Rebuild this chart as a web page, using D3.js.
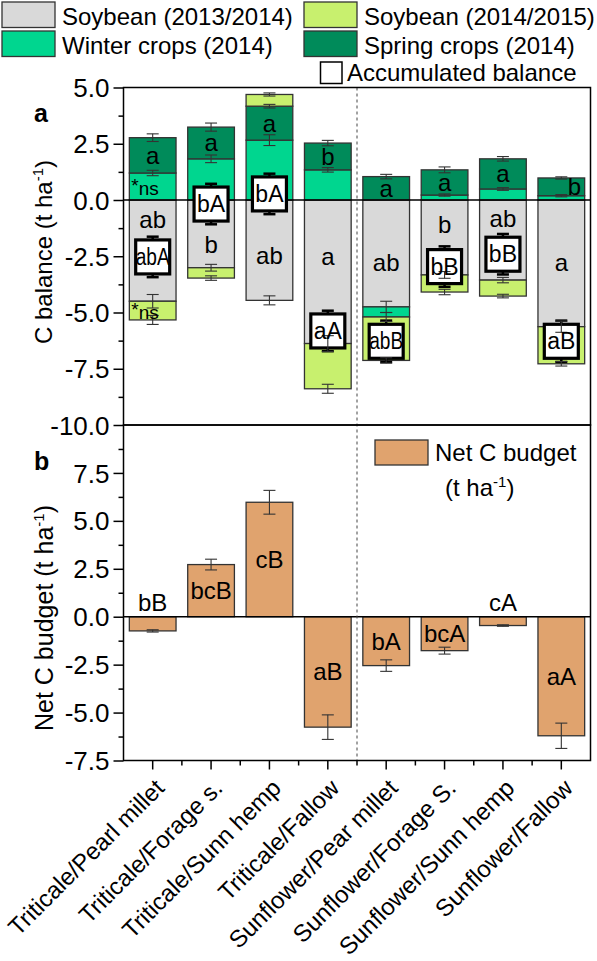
<!DOCTYPE html>
<html><head><meta charset="utf-8">
<script src="https://cdn.jsdelivr.net/npm/d3@7"></script>
<style>
body{margin:0;background:#fff}
svg{display:block}
text{font-family:"Liberation Sans",Arial,sans-serif;fill:#000}
</style>
</head><body>
<svg id="c" width="597" height="961"></svg>
<script>
// ---------------- data ----------------
const categories = ["Triticale/Pearl millet","Triticale/Forage s.","Triticale/Sunn hemp","Triticale/Fallow",
                    "Sunflower/Pear millet","Sunflower/Forage S.","Sunflower/Sunn hemp","Sunflower/Fallow"];
const soy1314    = [-4.50, -3.01, -4.46, -6.38, -4.75, -3.33, -3.56, -5.63];
const winter     = [ 1.20,  1.83,  2.66,  1.34, -0.45,  0.22,  0.49,  0.19];
const spring     = [ 1.57,  1.41,  1.51,  1.19,  1.04,  1.12,  1.34,  0.79];
const soy1415    = [-0.83, -0.46,  0.52, -2.01, -1.93, -0.76, -0.71, -1.65];
const soy1314Err = [0.30, 0.15, 0.20, 0.35, 0.25, 0.15, 0.12, 0.25];
const winterErr  = [0.12, 0.17, 0.24, 0.10, 0.20, 0.05, 0.06, 0.05];
const springErr  = [0.17, 0.18, 0.08, 0.12, 0.10, 0.13, 0.10, 0.05];
const soy1415Err = [0.20, 0.10, 0.07, 0.20, 0.12, 0.12, 0.08, 0.10];
const accum      = [-2.53, -0.18, 0.27, -5.82, -6.28, -2.96, -2.41, -6.28];
const accumErr   = [0.90, 0.90, 0.90, 0.90, 0.92, 0.90, 0.90, 0.92];
const netBudget  = [-0.74, 2.72, 5.97, -5.76, -2.55, -1.77, -0.46, -6.21];
const netErr     = [0.06, 0.28, 0.62, 0.64, 0.30, 0.18, 0.04, 0.66];
const springLetters = ["a","a","a","b","a","a","a","b"];
const soyLetters    = ["ab","b","ab","a","ab","b","ab","a"];
const accumLetters  = ["abA","bA","bA","aA","abB","bB","bB","aB"];
const netLetters    = ["bB","bcB","cB","aB","bA","bcA","cA","aA"];
const ticksA = [-10, -7.5, -5, -2.5, 0, 2.5, 5];
const ticksB = [-7.5, -5, -2.5, 0, 2.5, 5, 7.5];

// ---------------- layout ----------------
const svg = d3.select("#c");
const L = 123.5, R = 590.5, topA = 87.5, midY = 425, botB = 760.5;
const col = {soy1314:"#d9d9d9", winter:"#00d68f", spring:"#008b5a", soy1415:"#c8f06e", net:"#e0a36e"};
const edge = "#333";

const x = d3.scaleBand().domain(categories).range([L, R]).paddingInner(0.2).paddingOuter(0.1);
const step = x.step();
const cx = c => x(c) + x.bandwidth() / 2;
const yA = d3.scaleLinear().domain([-10, 5]).range([midY, topA]);
const yB = d3.scaleLinear().domain([-7.5, 10]).range([botB, midY]);

const gBars = svg.append("g");
const gLines = svg.append("g");
const gBox = svg.append("g");
const gErr = svg.append("g").attr("stroke", "#333").attr("stroke-width", 1.1);
const gTxt = svg.append("g").attr("text-anchor", "middle").style("font-size", "24px");

// ---------------- panel a: stacked bars ----------------
const keys = ["soy1314", "winter", "spring", "soy1415"];
const series = {soy1314, winter, spring, soy1415};
const errs = {soy1314: soy1314Err, winter: winterErr, spring: springErr, soy1415: soy1415Err};
const table = categories.map((c, i) => ({cat: c, soy1314: soy1314[i], winter: winter[i], spring: spring[i], soy1415: soy1415[i]}));
const stacked = d3.stack().keys(keys).offset(d3.stackOffsetDiverging)(table);

stacked.forEach(s => {
  gBars.selectAll(null).data(s).join("rect")
    .attr("x", d => x(d.data.cat)).attr("width", x.bandwidth())
    .attr("y", d => yA(Math.max(d[0], d[1])))
    .attr("height", d => Math.abs(yA(d[0]) - yA(d[1])))
    .attr("fill", col[s.key]).attr("stroke", edge).attr("stroke-width", 1.3);
});

gLines.append("line").attr("x1", L).attr("x2", R).attr("y1", yA(0)).attr("y2", yA(0))
  .attr("stroke", "#000").attr("stroke-width", 1.5);

// accumulated boxes
const box = 34;
categories.forEach((c, i) => {
  const yc = yA(accum[i]);
  gBox.append("rect").attr("x", cx(c) - box / 2).attr("y", yc - box / 2)
    .attr("width", box).attr("height", box).attr("fill", "#fff")
    .attr("stroke", "#000").attr("stroke-width", 3.2);
  const y1 = yA(accum[i] + accumErr[i]), y2 = yA(accum[i] - accumErr[i]);
  [[y1, yc - box / 2], [y2, yc + box / 2]].forEach(([a, b]) => {
    gBox.append("line").attr("x1", cx(c)).attr("x2", cx(c)).attr("y1", a).attr("y2", b)
      .attr("stroke", "#000").attr("stroke-width", 2.5);
    gBox.append("line").attr("x1", cx(c) - 6).attr("x2", cx(c) + 6).attr("y1", a).attr("y2", a)
      .attr("stroke", "#000").attr("stroke-width", 2.5);
  });
});

function errBar(g, xc, yTop, yBot, w) {
  g.append("line").attr("x1", xc).attr("x2", xc).attr("y1", yTop).attr("y2", yBot);
  g.append("line").attr("x1", xc - w).attr("x2", xc + w).attr("y1", yTop).attr("y2", yTop);
  g.append("line").attr("x1", xc - w).attr("x2", xc + w).attr("y1", yBot).attr("y2", yBot);
}
stacked.forEach(s => {
  s.forEach((d, i) => {
    const v = series[s.key][i];
    const end = v >= 0 ? d[1] : d[0];
    const e = errs[s.key][i];
    errBar(gErr, cx(d.data.cat), yA(end + e), yA(end - e), 6);
  });
});

// letters panel a
stacked.find(s => s.key === "spring").forEach((d, i) => {
  const h = d[1] - d[0];
  const dx = h < 0.9 ? 13 : 0;
  gTxt.append("text").attr("x", cx(d.data.cat) + dx).attr("y", yA((d[0] + d[1]) / 2) + 8.5).text(springLetters[i]);
});
categories.forEach((c, i) => {
  const boxTop = accum[i] + 0.76, boxBot = accum[i] - 0.76;
  let yv;
  if (boxBot < 0 && boxTop > -0.3) yv = (Math.min(boxBot, 0) + soy1314[i]) / 2;
  else yv = Math.min(boxTop, 0) / 2;
  gTxt.append("text").attr("x", cx(c)).attr("y", yA(yv) + 8.5).text(soyLetters[i]);
  const t = gTxt.append("text").attr("x", cx(c)).attr("y", yA(accum[i]) + 8).style("font-size", "23px").text(accumLetters[i]);
  if (accumLetters[i].length > 2) t.attr("textLength", 34).attr("lengthAdjust", "spacingAndGlyphs");
});
const nsRows = [stacked.find(s => s.key === "winter")[0], stacked.find(s => s.key === "soy1415")[0]];
nsRows.forEach(d => {
  const t = gTxt.append("text").attr("text-anchor", "start").attr("x", x(categories[0]) + 2)
    .attr("y", yA((d[0] + d[1]) / 2) + 8).style("font-size", "19px");
  t.append("tspan").text("*").attr("dy", -3);
  t.append("tspan").text("ns").attr("dy", 3);
});

// ---------------- panel b ----------------
gBars.selectAll(null).data(categories).join("rect")
  .attr("x", c => x(c)).attr("width", x.bandwidth())
  .attr("y", (c, i) => yB(Math.max(0, netBudget[i])))
  .attr("height", (c, i) => Math.abs(yB(netBudget[i]) - yB(0)))
  .attr("fill", col.net).attr("stroke", edge).attr("stroke-width", 1.3);
gLines.append("line").attr("x1", L).attr("x2", R).attr("y1", yB(0)).attr("y2", yB(0))
  .attr("stroke", "#000").attr("stroke-width", 1.5);
categories.forEach((c, i) => errBar(gErr, cx(c), yB(netBudget[i] + netErr[i]), yB(netBudget[i] - netErr[i]), 6));
categories.forEach((c, i) => {
  const v = netBudget[i];
  const yy = Math.abs(v) < 1 ? yB(0) - 6 : yB(v / 2) + 8.5;
  gTxt.append("text").attr("x", cx(c)).attr("y", yy).text(netLetters[i]);
});

// dashed divider
gLines.append("line").attr("x1", L + 4 * step).attr("x2", L + 4 * step).attr("y1", topA).attr("y2", botB)
  .attr("stroke", "#444").attr("stroke-width", 1).attr("stroke-dasharray", "3,3");

// frames
[[topA, midY], [midY, botB]].forEach(([t, b]) => {
  svg.append("rect").attr("x", L).attr("y", t).attr("width", R - L).attr("height", b - t)
    .attr("fill", "none").attr("stroke", "#000").attr("stroke-width", 1.5);
});

// ---------------- axes ----------------
const fmt = d => d.toFixed(1);
function yAxis(scale, vals, minorVals) {
  const g = svg.append("g").attr("transform", `translate(${L},0)`);
  g.call(d3.axisLeft(scale).tickValues(minorVals).tickSize(5).tickFormat(""));
  const g2 = svg.append("g").attr("transform", `translate(${L},0)`);
  g2.call(d3.axisLeft(scale).tickValues(vals).tickSize(10).tickPadding(4).tickFormat(fmt));
  [g, g2].forEach(gg => { gg.select(".domain").remove(); gg.selectAll("line").attr("stroke", "#000").attr("stroke-width", 1.5); });
  g2.selectAll("text").style("font-size", "26px").style("font-family", '"Liberation Sans",Arial,sans-serif').attr("dy", "0.35em");
}
yAxis(yA, ticksA, d3.range(-8.75, 5, 2.5));
yAxis(yB, ticksB, d3.range(-6.25, 10, 2.5));

// x axis
const gX = svg.append("g").attr("transform", `translate(0,${botB})`);
gX.call(d3.axisBottom(x).tickSize(9).tickFormat(""));
gX.select(".domain").remove();
gX.selectAll("line").attr("stroke", "#000").attr("stroke-width", 1.5);
d3.range(1, 8).forEach(i => {
  svg.append("line").attr("x1", L + i * step).attr("x2", L + i * step).attr("y1", botB).attr("y2", botB + 5)
    .attr("stroke", "#000").attr("stroke-width", 1.5);
});
svg.append("g").selectAll(null).data(categories).join("text")
  .attr("transform", c => `translate(${cx(c) + 13},${botB + 29}) rotate(-45)`)
  .attr("text-anchor", "end").style("font-size", "24px").text(c => c);

// axis titles
function yTitle(label, xPos, yPos, fs) {
  const t = svg.append("text").attr("transform", `translate(${xPos},${yPos}) rotate(-90)`)
    .attr("text-anchor", "middle").style("font-size", fs + "px");
  t.append("tspan").text(label + " (t ha");
  t.append("tspan").text("-1").style("font-size", "15px").attr("dy", -9);
  t.append("tspan").text(")").attr("dy", 9);
}
yTitle("C balance", 52, 252, 24);
yTitle("Net C budget", 53, 618, 25);
svg.append("text").attr("x", 34).attr("y", 122).style("font-size", "25px").style("font-weight", "bold").text("a");
svg.append("text").attr("x", 34).attr("y", 470).style("font-size", "25px").style("font-weight", "bold").text("b");

// ---------------- legends ----------------
const leg = [
  {k: "soy1314", label: "Soybean (2013/2014)", x: 2, y: 2},
  {k: "soy1415", label: "Soybean (2014/2015)", x: 304, y: 2},
  {k: "winter", label: "Winter crops (2014)", x: 2, y: 31},
  {k: "spring", label: "Spring crops (2014)", x: 304, y: 31}
];
leg.forEach(d => {
  svg.append("rect").attr("x", d.x).attr("y", d.y).attr("width", 53).attr("height", 25.5)
    .attr("fill", col[d.k]).attr("stroke", edge).attr("stroke-width", 1.3);
  svg.append("text").attr("x", d.x + 60).attr("y", d.y + 22.5).style("font-size", "24px").text(d.label);
});
svg.append("rect").attr("x", 320.5).attr("y", 62).attr("width", 21.5).attr("height", 21.5)
  .attr("fill", "#fff").attr("stroke", "#000").attr("stroke-width", 1.5);
svg.append("text").attr("x", 347).attr("y", 80.5).style("font-size", "24px").text("Accumulated balance");

svg.append("rect").attr("x", 375).attr("y", 440).attr("width", 53).attr("height", 25)
  .attr("fill", col.net).attr("stroke", edge).attr("stroke-width", 1.3);
svg.append("text").attr("x", 435).attr("y", 461).style("font-size", "24px").text("Net C budget");
const nt = svg.append("text").attr("x", 445).attr("y", 496).style("font-size", "24px");
nt.append("tspan").text("(t ha");
nt.append("tspan").text("-1").style("font-size", "15px").attr("dy", -9);
nt.append("tspan").text(")").attr("dy", 9);
</script>
</body></html>
